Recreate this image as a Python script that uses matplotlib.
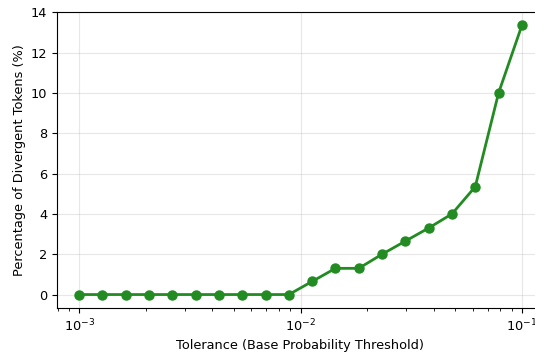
import numpy as np
import matplotlib
matplotlib.use('Agg')
import matplotlib.pyplot as plt

# tolerance sweep (log spaced) and divergence percentage
tolerance = np.logspace(-3, -1, 20)
divergent_pct = [0, 0, 0, 0, 0, 0, 0, 0, 0, 0,
                 0.65, 1.3, 1.3, 2.0, 2.65, 3.3, 4.0, 5.35, 10.0, 13.35]

plt.rcParams['font.size'] = 9.3

W, H = 535, 352
fig = plt.figure(figsize=(W / 100, H / 100), dpi=100)
# axes run off the right edge, like the cropped original
ax = fig.add_axes([57 / W, (H - 308) / H, (544 - 57) / W, (308 - 12) / H])

ax.plot(tolerance, divergent_pct, marker='o', color='forestgreen',
        linewidth=2, markersize=6.5)
ax.set_xscale('log')
ax.set_xlabel('Tolerance (Base Probability Threshold)', labelpad=3.5)
ax.set_ylabel('Percentage of Divergent Tokens (%)', labelpad=3.5)
ax.grid(True, alpha=0.3)
ax.spines['right'].set_visible(False)

fig.savefig('out.png', dpi=100)
